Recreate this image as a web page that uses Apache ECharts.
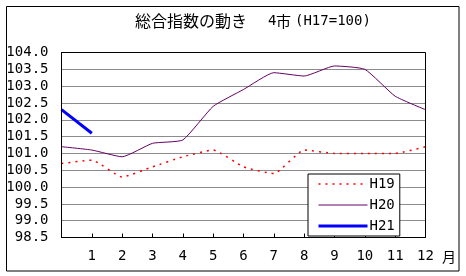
<!DOCTYPE html>
<html><head><meta charset="utf-8">
<script src="https://cdn.jsdelivr.net/npm/echarts@6/dist/echarts.min.js"></script>
<style>html,body{margin:0;padding:0;background:#fff}#c{width:466px;height:276px}</style>
</head><body><div id="c"></div>
<script>
const months = [0,1,2,3,4,5,6,7,8,9,10,11,12];
const monthLabels = ['', '1','2','3','4','5','6','7','8','9','10','11','12'];
const h19 = [100.7,100.8,100.3,100.6,100.9,101.1,100.6,100.4,101.1,101.0,101.0,101.0,101.2];
const h20 = [101.2,101.1,100.9,101.3,101.4,102.4,102.9,103.4,103.3,103.6,103.5,102.7,102.3];
const h21 = [102.3,101.6];
const yMin = 98.5, yMax = 104.0, yStep = 0.5;

const pair = (arr) => arr.map((v,i)=>[months[i], v]);
const mono = 'DejaVu Sans Mono';
const cjk = 'Noto Sans CJK JP';

const chart = echarts.init(document.getElementById('c'), null, {renderer:'canvas'});
chart.setOption({
  animation:false,
  backgroundColor:'#fff',
  grid:{left:61.5, top:52.5, right:40.5, bottom:38.5, show:false},
  xAxis:{type:'value', min:0, max:12, interval:1,
    axisLine:{lineStyle:{color:'#000'}},
    axisTick:{inside:true, length:4, lineStyle:{color:'#000'}},
    axisLabel:{margin:12, color:'#000', fontFamily:mono, fontSize:14,
      formatter:(v)=>monthLabels[v]||''},
    splitLine:{show:false}},
  yAxis:{type:'value', min:yMin, max:yMax, interval:yStep,
    axisLine:{show:true, lineStyle:{color:'#000'}},
    axisTick:{show:false},
    axisLabel:{margin:13, color:'#000', fontFamily:mono, fontSize:14,
      formatter:(v)=>v.toFixed(1)},
    splitLine:{show:true, lineStyle:{color:'#8c8c8c', width:1}}},
  legend:{orient:'vertical', left:308, top:174, padding:[3,5,3,9],
    itemWidth:49, itemHeight:12, itemGap:7,
    backgroundColor:'#fff', borderColor:'#000', borderWidth:1,
    itemStyle:{opacity:0},
    textStyle:{fontFamily:mono, fontSize:14, color:'#000', padding:[0,0,0,-3]},
    data:[
      {name:'H19', lineStyle:{width:1.5}},
      {name:'H20', lineStyle:{width:1}},
      {name:'H21', lineStyle:{width:3}}
    ]},
  series:[
    {name:'H19', type:'line', data:pair(h19), showSymbol:false, symbol:'none', smooth:0.15,
      lineStyle:{color:'#ff0000', width:1.5, type:[2,5]}, itemStyle:{color:'#ff0000'}},
    {name:'H20', type:'line', data:pair(h20), showSymbol:false, symbol:'none', smooth:0.15,
      lineStyle:{color:'#660066', width:1}, itemStyle:{color:'#660066'}},
    {name:'H21', type:'line', data:pair(h21), showSymbol:false, symbol:'none', smooth:0.15,
      lineStyle:{color:'#0000ff', width:3}, itemStyle:{color:'#0000ff'}}
  ],
  graphic:[
    {type:'rect', shape:{x:6.5, y:6.5, width:452.5, height:264.5}, style:{fill:'none', stroke:'#000', lineWidth:1}, z:100, silent:true},
    {type:'rect', shape:{x:61.5, y:52.5, width:364, height:185}, style:{fill:'none', stroke:'#000', lineWidth:1}, z:100, silent:true},
    {type:'text', x:135, y:21, style:{text:'総合指数の動き', font:'16px "'+cjk+'"', fill:'#000', textVerticalAlign:'middle'}},
    {type:'text', x:268, y:21, style:{text:'4', font:'14px "'+mono+'"', fill:'#000', textVerticalAlign:'middle'}},
    {type:'text', x:276, y:21, style:{text:'市', font:'15px "'+cjk+'"', fill:'#000', textVerticalAlign:'middle'}},
    {type:'text', x:295, y:21, style:{text:'(H17=100)', font:'14px "'+mono+'"', fill:'#000', textVerticalAlign:'middle'}},
    {type:'text', x:442, y:257, style:{text:'月', font:'14px "'+cjk+'"', fill:'#000', textVerticalAlign:'middle'}}
  ]
});
</script></body></html>
